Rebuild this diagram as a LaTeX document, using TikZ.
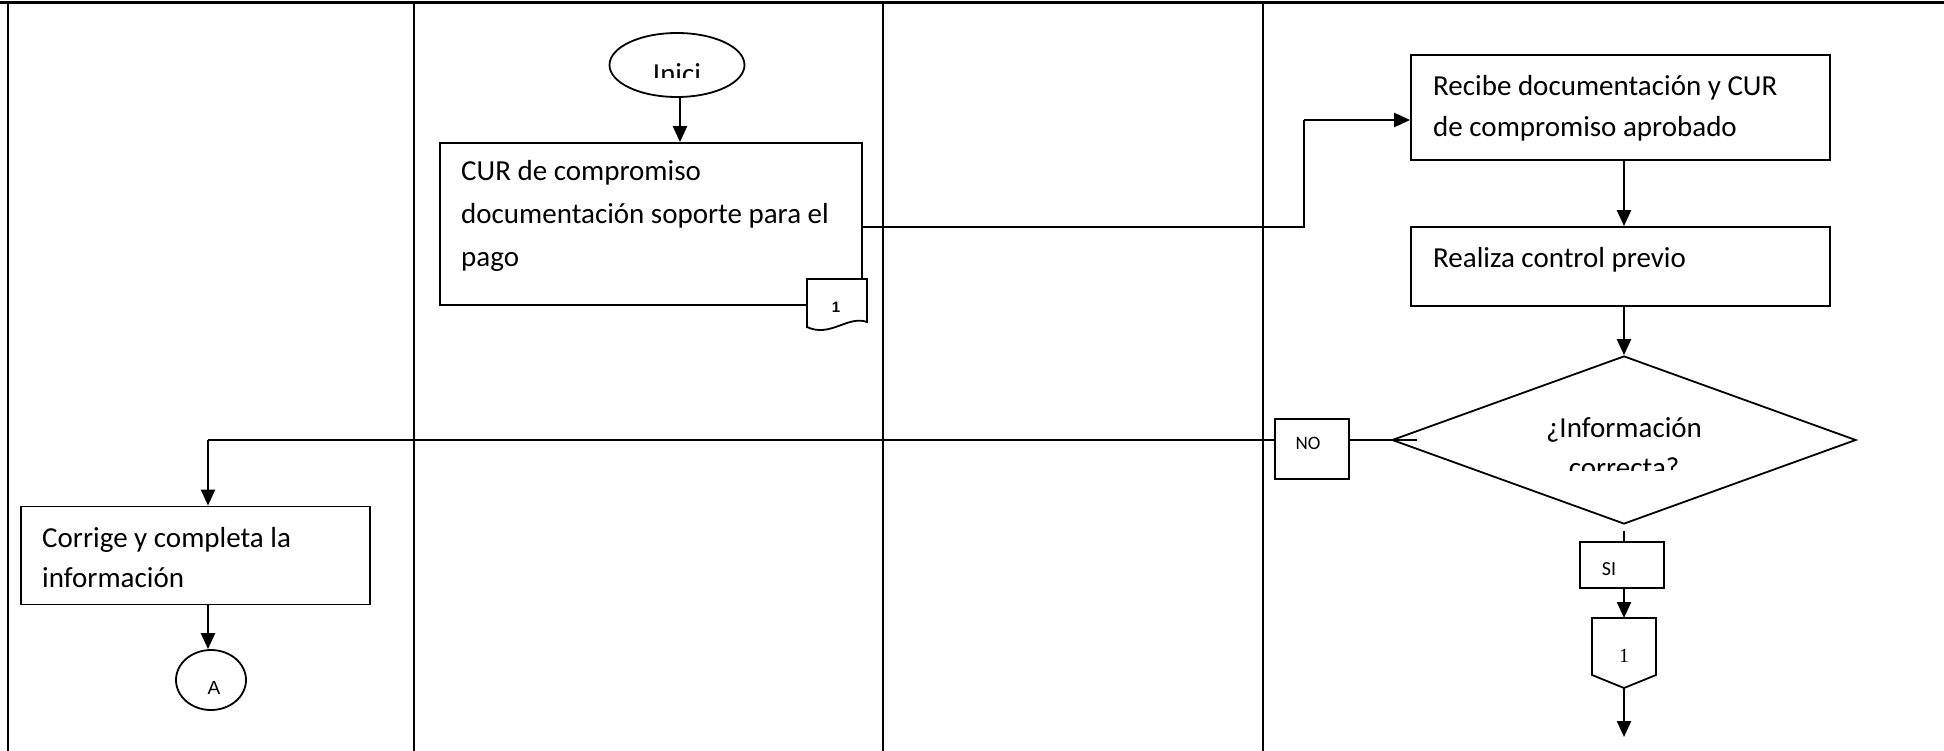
\documentclass[tikz,border=0pt]{standalone}
\usepackage{fontspec}
\setmainfont{Carlito}
\newfontfamily\arialf{Liberation Sans}
\newfontfamily\cambf{Liberation Serif}
\usetikzlibrary{arrows.meta,shapes.geometric}
\begin{document}
\begin{tikzpicture}[x=1pt,y=-1pt,
  lane/.style={line width=2pt},
  box/.style={draw,line width=1.8pt,rectangle,inner sep=0pt},
  btxt/.style={anchor=base west,inner sep=0pt,align=left},
  conn/.style={line width=2pt},
  arr/.style={line width=2.4pt,-{Triangle[length=16pt,width=14pt]}},
  shp/.style={draw,line width=1.8pt,inner sep=0pt}
]
\useasboundingbox (0,0) rectangle (1944,751);
% lanes
\draw[line width=3pt] (0,3) -- (1944,3);
\draw[lane] (8,3) -- (8,751);
\draw[lane] (414,3) -- (414,751);
\draw[lane] (883,3) -- (883,751);
\draw[lane] (1263,3) -- (1263,751);

% start
\node[shp,ellipse,minimum width=135pt,minimum height=64pt] (ini) at (677,65) {};
\begin{scope}
\clip (600,20) rectangle (760,78);
\node[anchor=base,inner sep=0pt,font=\fontsize{29}{35}\selectfont] (initxt) at (677,84) {Inici};
\end{scope}

% box A
\node[box,minimum width=422pt,minimum height=162pt] (boxA) at (651,224) {};
\node[btxt,font=\fontsize{29}{43}\selectfont] (boxAt) at (461,267) {CUR de compromiso\\documentación soporte para el\\pago};
\draw[line width=1.8pt,fill=white] (807,279) -- (867,279) -- (867,322) .. controls (848,315) and (830,338) .. (807,327) -- cycle;
\node[inner sep=0pt,font=\arialf\bfseries\fontsize{15}{18}\selectfont] (doc1) at (836,307) {1};

% box B, C
\node[box,minimum width=419pt,minimum height=105pt] (boxB) at (1620.5,107.5) {};
\node[btxt,font=\fontsize{29}{41}\selectfont] (boxBt) at (1433,137) {Recibe documentación y CUR\\de compromiso aprobado};
\node[box,minimum width=419pt,minimum height=79pt] (boxC) at (1620.5,266.5) {};
\node[btxt,font=\fontsize{29}{39}\selectfont] (boxCt) at (1433,268) {Realiza control previo};

% diamond
\node[shp,diamond,aspect=1,minimum width=464pt,minimum height=168pt] (dia) at (1624,440) {};
\node[anchor=base,inner sep=0pt,font=\fontsize{29}{35}\selectfont] (diat1) at (1624,437) {¿Información};
\begin{scope}
\clip (1500,440) rectangle (1750,470);
\node[anchor=base,inner sep=0pt,font=\fontsize{29}{35}\selectfont] (diat2) at (1624,477) {correcta?};
\end{scope}

% NO / SI
\node[box,minimum width=74pt,minimum height=60pt] (no) at (1312,449) {};
\node[anchor=base,inner sep=0pt,font=\fontsize{19}{22}\selectfont] (notxt) at (1308,449) {NO};
\node[box,minimum width=84pt,minimum height=46pt] (si) at (1622,565) {};
\node[anchor=base,inner sep=0pt,font=\fontsize{20}{24}\selectfont] (sitxt) at (1609,575) {SI};

% off-page connector
\draw[line width=1.8pt] (1592,618) -- (1656,618) -- (1656,675) -- (1624,688) -- (1592,675) -- cycle;
\coordinate (pentN) at (1624,618);
\coordinate (pentS) at (1624,688);
\coordinate (endc) at (1624,737);
\node[inner sep=0pt,font=\cambf\fontsize{20}{24}\selectfont] (pent1) at (1624,656) {1};

% box D and connector A
\node[box,minimum width=349pt,minimum height=98pt] (boxD) at (195.5,555.5) {};
\node[btxt,font=\fontsize{29}{40}\selectfont] (boxDt) at (42,587) {Corrige y completa la\\información};
\node[shp,ellipse,minimum width=70pt,minimum height=60pt] (ca) at (211,680) {};
\node[inner sep=0pt,font=\arialf\fontsize{19}{22}\selectfont] (catxt) at (214,688) {A};

% connectors
\draw[arr] ([xshift=3pt]ini.south) -- ([xshift=3pt]ini.south |- boxA.north);
\coordinate (c2) at (1304,227);
\coordinate (c3) at (1304,120);
\draw[conn] (boxA.east |- c2) -- (c2) -- (c3);
\draw[arr] (c3) -- (boxB.west |- c3);
\draw[arr] (boxB.south -| dia.north) -- (boxC.north -| dia.north);
\draw[arr] (boxC.south -| dia.north) -- (dia.north);
\draw[conn] ([xshift=26pt]dia.west) -- (no.east |- dia.west);
\coordinate (c1) at (208,440);
\draw[conn] (no.west |- dia.west) -- (c1);
\draw[arr] (c1) -- (c1 |- boxD.north);
\draw[arr] (c1 |- boxD.south) -- (c1 |- ca.north);
\draw[conn] ([yshift=-6pt]dia.south) -- (dia.south |- si.north);
\draw[arr] (si.south -| pentN) -- (pentN);
\draw[arr] (pentS) -- (endc);
\end{tikzpicture}
\end{document}
